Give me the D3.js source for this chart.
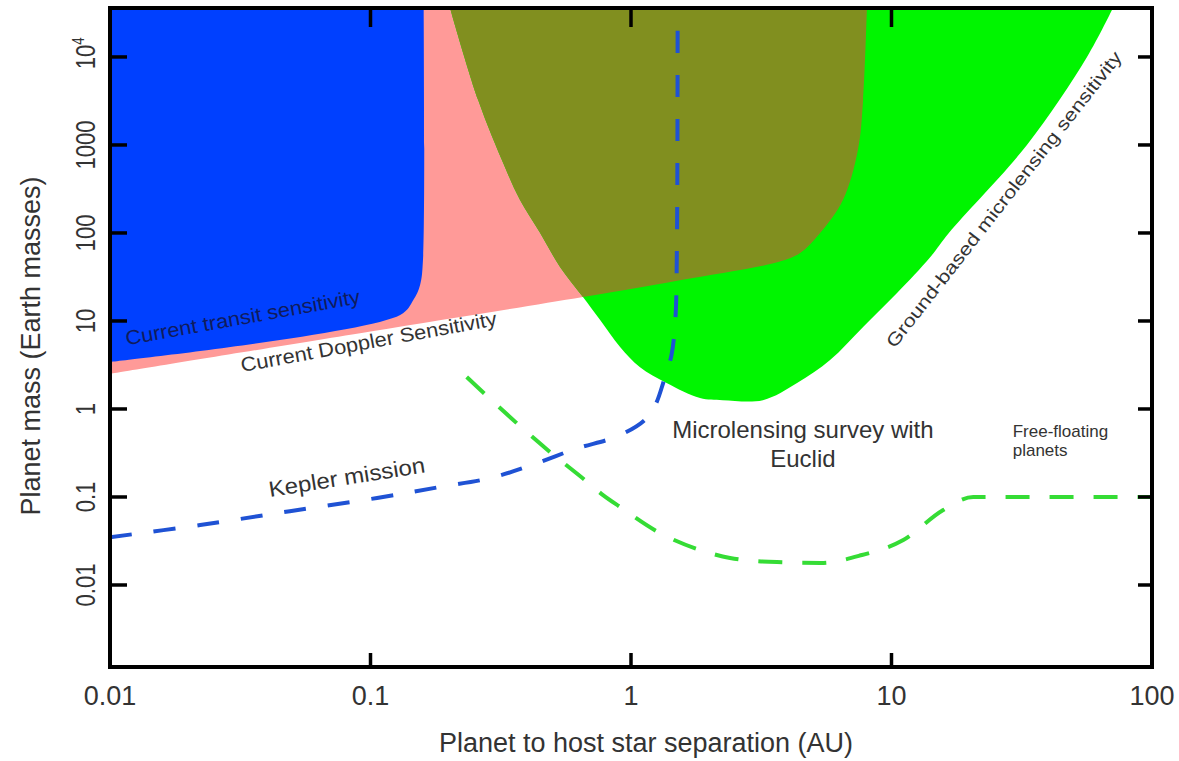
<!DOCTYPE html>
<html>
<head>
<meta charset="utf-8">
<script src="https://cdn.jsdelivr.net/npm/d3@7"></script>
<style>
	body { margin: 0; background: #fff; }
	svg { display: block; }
	text { font-family: "Liberation Sans", Arial, sans-serif; }
</style>
</head>
<body>
<div id="chart"></div>
<script>
// axis ticks
var xTicks = [0.01, 0.1, 1, 10, 100];
var xTickLabels = ["0.01", "0.1", "1", "10", "100"];
var yTicks = [0.01, 0.1, 1, 10, 100, 1000, 10000];
var yTickLabels = ["0.01", "0.1", "1", "10", "100", "1000", "10^4"];

// region boundaries, [separation AU, mass Earth masses]
var transitEdge = [[0.01, 3.42], [0.13, 11.7], [0.146, 17.3], [0.155, 25.7], [0.159, 49], [0.16, 36000]];
var dopplerEdge = [[0.01, 2.5], [0.1, 7.6], [0.654, 18.7], [1.54, 29], [3.7, 47], [4.46, 59.3], [5.32, 100],
	[6.51, 237], [7.43, 877], [7.78, 3240], [8.05, 36000]];
var microlensEdge = [[0.202, 36000], [0.259, 3240], [0.328, 562], [0.375, 237], [0.448, 100], [0.534, 41.1],
	[0.654, 18.7], [0.76, 10.3], [0.908, 5.07], [1.08, 3.0], [1.37, 1.97], [1.84, 1.33], [2.25, 1.26],
	[3.21, 1.26], [4.34, 1.97], [5.81, 3.6], [7.78, 8.55], [10.5, 20.8], [14.1, 53.4], [16.6, 100],
	[33.1, 1000], [56.3, 10000], [70.8, 36000]];

// dashed curves
var keplerLine = [[0.01, 0.0349], [0.0222, 0.048], [0.049, 0.069], [0.106, 0.0975], [0.185, 0.130],
	[0.288, 0.164], [0.417, 0.231], [0.61, 0.351], [0.891, 0.493], [1.13, 0.75], [1.24, 1.11],
	[1.34, 2.14], [1.43, 4.1], [1.48, 10.3], [1.5, 64], [1.51, 36000]];
var euclidLine = [[0.234, 2.31], [0.489, 0.324], [0.665, 0.156], [0.781, 0.105], [0.908, 0.077],
	[1.27, 0.040], [1.84, 0.025], [2.4, 0.0203], [3.63, 0.0182], [5.36, 0.0178], [7.7, 0.0219],
	[11.1, 0.0324], [15.8, 0.071], [20.6, 0.1], [100, 0.1]];

var width = 1179, height = 761;
var margin = { left: 110, right: 27, top: 8, bottom: 94 };

var x = d3.scaleLog().domain([0.01, 100]).range([margin.left, width - margin.right]);
var y = d3.scaleLog().domain([0.00117, 36000]).range([height - margin.bottom, margin.top]);

var svg = d3.select('#chart').append('svg')
	.attr('width', width)
	.attr('height', height);

var smooth = d3.line()
	.x(function (d) { return x(d[0]); })
	.y(function (d) { return y(d[1]); })
	.curve(d3.curveCatmullRom.alpha(0.5));

var flat = d3.line()
	.x(function (d) { return x(d[0]); })
	.y(function (d) { return y(d[1]); })
	.curve(d3.curveMonotoneX);

// close a boundary against the top of the plot
function region(edge) {
	var top = y(y.domain()[1] * 3);
	var first = edge[0], last = edge[edge.length - 1];
	return 'M' + x(first[0]) + ',' + top + 'L' + smooth(edge).slice(1) +
		'L' + x(last[0]) + ',' + top + 'Z';
}

var defs = svg.append('defs');
defs.append('clipPath').attr('id', 'plot-clip')
	.append('rect')
	.attr('x', x.range()[0])
	.attr('y', y.range()[1])
	.attr('width', x.range()[1] - x.range()[0])
	.attr('height', y.range()[0] - y.range()[1]);
defs.append('clipPath').attr('id', 'micro-clip')
	.append('path')
	.attr('d', region(microlensEdge));

var plot = svg.append('g').attr('clip-path', 'url(#plot-clip)');

plot.append('path').attr('d', region(dopplerEdge)).attr('fill', '#ff9a98');
plot.append('path').attr('d', region(microlensEdge)).attr('fill', '#00f500');
plot.append('path').attr('d', region(dopplerEdge)).attr('fill', '#818f1f')
	.attr('clip-path', 'url(#micro-clip)');
plot.append('path').attr('d', region(transitEdge)).attr('fill', '#0040ff');

plot.append('path')
	.attr('d', smooth(keplerLine))
	.attr('fill', 'none')
	.attr('stroke', '#1f52d4')
	.attr('stroke-width', 4)
	.attr('stroke-dasharray', '22,22');

plot.append('path')
	.attr('d', flat(euclidLine))
	.attr('fill', 'none')
	.attr('stroke', '#35dc35')
	.attr('stroke-width', 4)
	.attr('stroke-dasharray', '24,20');

// annotations
function note(text, px, py, angle, size, fill, len) {
	var t = svg.append('text')
		.attr('transform', 'translate(' + px + ',' + py + ') rotate(' + angle + ')')
		.attr('font-size', size)
		.attr('fill', fill)
		.text(text);
	if (len) t.attr('textLength', len).attr('lengthAdjust', 'spacingAndGlyphs');
	return t;
}

note('Current transit sensitivity', x(0.0116), y(5.3), -10.2, 20, '#101c5c', 238);
note('Current Doppler Sensitivity', x(0.0321), y(2.63), -10.4, 20, '#333', 260);
note('Kepler mission', x(0.0411), y(0.1), -9, 22, '#333', 158);
note('Ground-based microlensing sensitivity', x(10.3), y(4.8), -52, 18, '#333', 370);

svg.append('text')
	.attr('x', x(4.57)).attr('y', y(0.468))
	.attr('text-anchor', 'middle')
	.attr('font-size', 24)
	.attr('fill', '#333')
	.text('Microlensing survey with')
	.append('tspan')
	.attr('x', x(4.57)).attr('dy', 29)
	.text('Euclid');

svg.append('text')
	.attr('x', x(29.2)).attr('y', y(0.48))
	.attr('font-size', 17)
	.attr('fill', '#333')
	.text('Free-floating')
	.append('tspan')
	.attr('x', x(29.2)).attr('dy', 19)
	.text('planets');

// frame and ticks
var x0 = x.range()[0], x1 = x.range()[1], y0 = y.range()[1], y1 = y.range()[0];

svg.append('rect')
	.attr('x', x0).attr('y', y0)
	.attr('width', x1 - x0).attr('height', y1 - y0)
	.attr('fill', 'none')
	.attr('stroke', '#000')
	.attr('stroke-width', 4);

var ticks = svg.append('g').attr('stroke', '#000').attr('stroke-width', 3.5);
yTicks.forEach(function (v) {
	ticks.append('line').attr('x1', x0).attr('x2', x0 + 17).attr('y1', y(v)).attr('y2', y(v));
	ticks.append('line').attr('x1', x1 - 14).attr('x2', x1).attr('y1', y(v)).attr('y2', y(v));
});
xTicks.forEach(function (v) {
	ticks.append('line').attr('x1', x(v)).attr('x2', x(v)).attr('y1', y0).attr('y2', y0 + 19);
	ticks.append('line').attr('x1', x(v)).attr('x2', x(v)).attr('y1', y1 - 14).attr('y2', y1);
});

svg.selectAll('text.xlabel')
	.data(xTicks)
	.enter().append('text')
	.classed('xlabel', true)
	.attr('x', function (d) { return x(d); })
	.attr('y', 705)
	.attr('text-anchor', 'middle')
	.attr('font-size', 27)
	.attr('fill', '#333')
	.text(function (d, i) { return xTickLabels[i]; });

yTicks.forEach(function (v, i) {
	var label = yTickLabels[i];
	var t = svg.append('text')
		.attr('transform', 'translate(95,' + y(v) + ') rotate(-90) scale(0.82,1)')
		.attr('font-size', 27)
		.attr('fill', '#333');
	if (label.indexOf('^') > -1) {
		var parts = label.split('^');
		var base = t.append('tspan').text(parts[0]);
		t.append('tspan').attr('font-size', 16).attr('dy', -11).text(parts[1]);
		t.attr('x', -base.node().getComputedTextLength() / 2);
	} else {
		t.attr('text-anchor', 'middle').text(label);
	}
});

svg.append('text')
	.attr('x', 646).attr('y', 752)
	.attr('text-anchor', 'middle')
	.attr('font-size', 27)
	.attr('fill', '#333')
	.text('Planet to host star separation (AU)');

svg.append('text')
	.attr('transform', 'translate(40,346) rotate(-90)')
	.attr('text-anchor', 'middle')
	.attr('font-size', 27)
	.attr('fill', '#333')
	.text('Planet mass (Earth masses)');
</script>
</body>
</html>
